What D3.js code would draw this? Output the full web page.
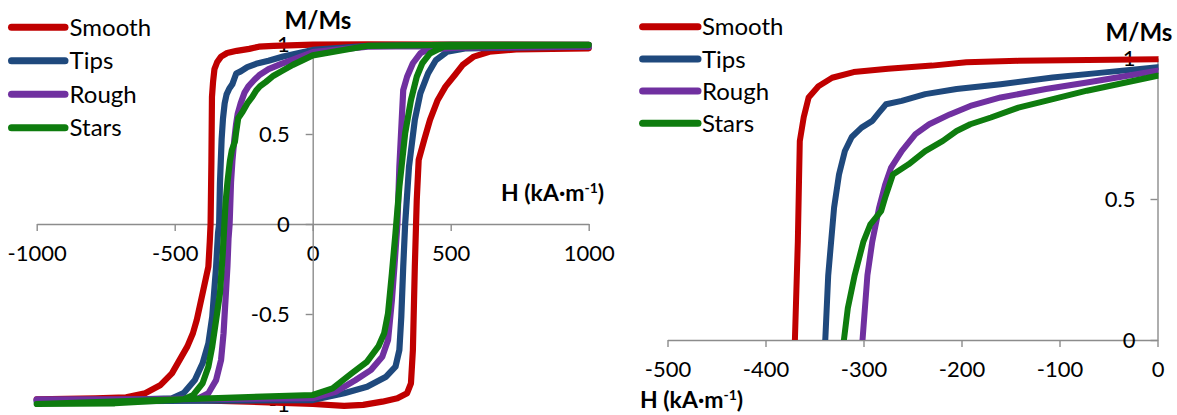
<!DOCTYPE html>
<html>
<head>
<meta charset="utf-8">
<script src="https://cdn.jsdelivr.net/npm/d3@7"></script>
<style>
  html, body { margin: 0; padding: 0; background: #fff; }
  svg { display: block; }
  text { font-family: Lato, "Open Sans", sans-serif; fill: #000; }
</style>
</head>
<body>
<svg id="chart" width="1177" height="415"></svg>
<script>
// ---------- data ----------
const seriesNames = ["Smooth", "Tips", "Rough", "Stars"];
const seriesColors = ["#C00000", "#1F497D", "#7030A0", "#0E7C0E"];

// descending branches (H from +1000 to -1000), [H (kA/m), M/Ms]
const smoothDown = [[1000,0.995],[500,0.997],[200,0.998],[0,0.996],[-142,0.99],[-195,0.985],[-230,0.973],[-275,0.962],[-310,0.95],[-332,0.93],[-346,0.9],[-356,0.86],[-361,0.79],[-365,0.706],[-367,0.35],[-370,0],[-373,-0.1],[-378,-0.237],[-399,-0.385],[-420,-0.533],[-434,-0.607],[-454,-0.68],[-482,-0.755],[-510,-0.83],[-551,-0.894],[-607,-0.94],[-676,-0.963],[-787,-0.968],[-1000,-0.974]];
const tipsDown = [[1000,0.995],[500,0.995],[200,0.99],[0,0.967],[-54,0.949],[-107,0.931],[-160,0.907],[-205,0.89],[-237,0.872],[-261,0.848],[-277,0.836],[-284,0.807],[-291,0.777],[-302,0.753],[-312,0.72],[-319,0.67],[-325,0.587],[-330,0.47],[-336,0.23],[-339,0],[-343,-0.05],[-350,-0.237],[-364,-0.515],[-378,-0.663],[-399,-0.774],[-427,-0.867],[-468,-0.94],[-510,-0.968],[-717,-0.978],[-1000,-0.98]];
const roughDown = [[1000,0.99],[500,0.99],[200,0.985],[0,0.955],[-72,0.913],[-114,0.89],[-160,0.86],[-191,0.83],[-212,0.8],[-233,0.765],[-247,0.73],[-261,0.67],[-272,0.61],[-278,0.55],[-284,0.47],[-291,0.35],[-296,0.23],[-301,0],[-305,-0.08],[-309,-0.237],[-316,-0.422],[-323,-0.607],[-332,-0.755],[-350,-0.867],[-378,-0.94],[-413,-0.968],[-579,-0.974],[-1000,-0.974]];
const starsDown = [[1000,0.995],[500,0.995],[200,0.99],[0,0.937],[-72,0.884],[-114,0.848],[-142,0.824],[-170,0.789],[-191,0.765],[-205,0.741],[-219,0.706],[-237,0.67],[-254,0.623],[-270,0.587],[-278,0.504],[-282,0.457],[-293,0.41],[-300,0.35],[-309,0.23],[-316,0.113],[-320,0],[-326,-0.163],[-336,-0.385],[-350,-0.533],[-364,-0.68],[-378,-0.793],[-399,-0.885],[-433,-0.95],[-468,-0.974],[-717,-0.996],[-1000,-1.0]];

// ascending branches (H from -1000 to +1000)
const smoothUp = [[-1000,-0.974],[-700,-0.975],[-400,-0.98],[-233,-0.987],[0,-1.0],[114,-1.01],[183,-1.005],[252,-0.987],[307,-0.968],[342,-0.94],[356,-0.885],[363,-0.7],[370,-0.237],[377,0.133],[384,0.356],[404,0.467],[425,0.578],[453,0.689],[481,0.763],[515,0.828],[543,0.883],[584,0.93],[640,0.957],[737,0.97],[1000,0.976]];
const tipsUp = [[-1000,-0.987],[0,-0.978],[114,-0.94],[197,-0.904],[266,-0.848],[300,-0.793],[314,-0.7],[321,-0.515],[328,-0.237],[335,0],[349,0.32],[370,0.578],[390,0.726],[418,0.837],[446,0.91],[487,0.957],[557,0.976],[1000,0.985]];
const roughUp = [[-1000,-0.98],[0,-0.968],[86,-0.93],[155,-0.867],[211,-0.811],[252,-0.737],[273,-0.644],[287,-0.422],[296,-0.237],[307,0],[314,0.318],[328,0.744],[342,0.818],[363,0.893],[390,0.948],[418,0.97],[529,0.98],[1000,0.985]];
const starsUp = [[-1000,-1.0],[0,-0.95],[72,-0.913],[141,-0.83],[197,-0.765],[238,-0.68],[259,-0.607],[273,-0.496],[287,-0.274],[300,-0.05],[314,0.207],[335,0.504],[356,0.689],[377,0.818],[397,0.893],[425,0.948],[474,0.985],[1000,0.994]];

const leftHTicks = [-1000, -500, 0, 500, 1000];
const leftMTicks = [-1, -0.5, 0, 0.5, 1];
const rightHTicks = [-500, -400, -300, -200, -100, 0];
const rightMTicks = [0, 0.5, 1];

const downs = [smoothDown, tipsDown, roughDown, starsDown];
const ups = [smoothUp, tipsUp, roughUp, starsUp];

// ---------- drawing ----------
const svg = d3.select("#chart");
const axisColor = "#8c8c8c";
const fmt = d => String(d);

function styleAxis(g) {
  g.select(".domain").attr("stroke", axisColor).attr("stroke-width", 1.4);
  g.selectAll(".tick line").attr("stroke", axisColor).attr("stroke-width", 1.4);
  g.selectAll(".tick text").style("font-size", "22px").attr("fill", "#000");
}

function legend(x0, x1, tx, y0, dy) {
  seriesNames.forEach((n, i) => {
    const y = y0 + i * dy;
    svg.append("line").attr("x1", x0).attr("x2", x1).attr("y1", y).attr("y2", y)
      .attr("stroke", seriesColors[i]).attr("stroke-width", 7).attr("stroke-linecap", "round");
    svg.append("text").attr("x", tx).attr("y", y).attr("dy", "0.36em")
      .style("font-size", "24px").text(n);
  });
}

function hLabel(x, y) {
  const t = svg.append("text").attr("x", x).attr("y", y)
    .style("font-size", "23px").style("font-weight", "bold");
  t.append("tspan").text("H (kA\u00B7m");
  t.append("tspan").attr("dy", -8).style("font-size", "14px").text("-1");
  t.append("tspan").attr("dy", 8).text(")");
}

// ----- left panel -----
const xL = d3.scaleLinear().domain([-1000, 1000]).range([36.7, 588.7]);
const yL = d3.scaleLinear().domain([-1, 1]).range([404, 44]);

svg.append("g").attr("transform", `translate(0,${yL(0)})`)
  .call(d3.axisBottom(xL).tickValues(leftHTicks).tickFormat(fmt).tickSize(7).tickPadding(14).tickSizeOuter(0))
  .call(styleAxis);
svg.append("g").attr("transform", `translate(${xL(0)},0)`)
  .call(d3.axisLeft(yL).tickValues(leftMTicks).tickFormat(fmt).tickSize(7).tickPadding(16).tickSizeOuter(0))
  .call(styleAxis);

const lineL = d3.line().x(d => xL(d[0])).y(d => yL(d[1]));
downs.forEach((dn, i) => {
  svg.append("path").attr("d", lineL(dn.concat(ups[i])))
    .attr("fill", "none").attr("stroke", seriesColors[i]).attr("stroke-width", 6.2)
    .attr("stroke-linejoin", "round").attr("stroke-linecap", "round");
});

legend(11.5, 65, 69.6, 27.3, 33.5);
svg.append("text").attr("x", 318).attr("y", 20).attr("dy", "0.36em").attr("text-anchor", "middle")
  .style("font-size", "24px").style("font-weight", "bold").text("M/Ms");
hLabel(501, 201);

// ----- right panel -----
const xR = d3.scaleLinear().domain([-500, 0]).range([667.5, 1157.5]);
const yR = d3.scaleLinear().domain([0, 1]).range([340, 58]);

svg.append("defs").append("clipPath").attr("id", "clipR")
  .append("rect").attr("x", xR(-500)).attr("y", 30).attr("width", xR(0) - xR(-500) + 1).attr("height", yR(0) - 30);

svg.append("g").attr("transform", `translate(0,${yR(0)})`)
  .call(d3.axisBottom(xR).tickValues(rightHTicks).tickFormat(fmt).tickSize(7).tickPadding(14).tickSizeOuter(0))
  .call(styleAxis);
svg.append("g").attr("transform", `translate(${xR(0)},0)`)
  .call(d3.axisLeft(yR).tickValues(rightMTicks).tickFormat(fmt).tickSize(7).tickPadding(15).tickSizeOuter(0))
  .call(styleAxis);

const lineR = d3.line().x(d => xR(d[0])).y(d => yR(d[1]));
const gR = svg.append("g").attr("clip-path", "url(#clipR)");
downs.forEach((dn, i) => {
  gR.append("path").attr("d", lineR(dn))
    .attr("fill", "none").attr("stroke", seriesColors[i]).attr("stroke-width", 6)
    .attr("stroke-linejoin", "round").attr("stroke-linecap", "round");
});

legend(642.6, 698, 702, 26.7, 32.2);
svg.append("text").attr("x", 1139).attr("y", 32).attr("dy", "0.36em").attr("text-anchor", "middle")
  .style("font-size", "24px").style("font-weight", "bold").text("M/Ms");
hLabel(640, 408);
</script>
</body>
</html>
